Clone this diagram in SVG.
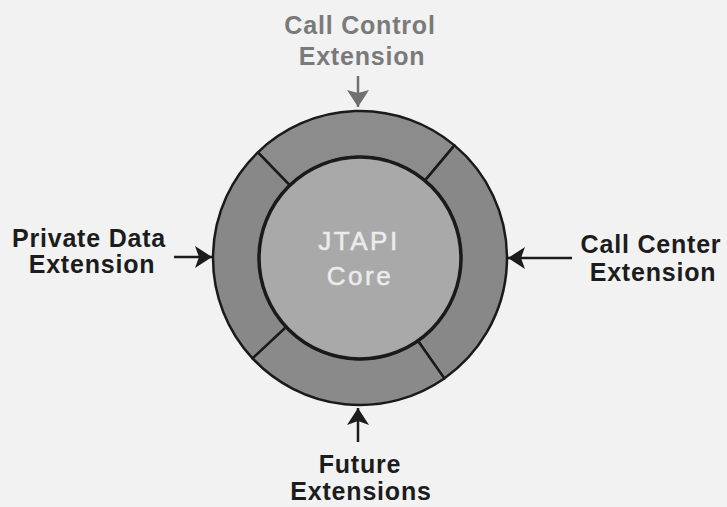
<svg xmlns="http://www.w3.org/2000/svg" width="727" height="507" viewBox="0 0 727 507">
  <style>
    .label { font-family: "Liberation Sans", Arial, sans-serif; font-size: 25px; font-weight: bold; fill: #1c1c1c; text-anchor: middle; letter-spacing: 0.8px; }
    .label.dim { fill: #7a7a7a; }
    .core-text { font-family: "Liberation Sans", Arial, sans-serif; font-size: 26px; fill: #ececec; stroke: #ececec; stroke-width: 0.5; text-anchor: middle; letter-spacing: 2.5px; }
    .segment { fill: #888888; stroke: #1a1a1a; stroke-width: 2.5; stroke-linejoin: round; }
    .core { fill: #a9a9a9; stroke: #1a1a1a; stroke-width: 3.5; }
    .link { stroke: #1c1c1c; stroke-width: 2.5; fill: none; }
    .link.dim { stroke: #707070; }
  </style>
  <defs>
    <marker id="head" markerUnits="userSpaceOnUse" markerWidth="18" markerHeight="24" refX="17" refY="11" orient="auto">
      <path d="M0,0 L17,11 L0,22 L4,11 Z" fill="#1c1c1c"/>
    </marker>
    <marker id="head-dim" markerUnits="userSpaceOnUse" markerWidth="18" markerHeight="24" refX="17" refY="11" orient="auto">
      <path d="M0,0 L17,11 L0,22 L3,11 Z" fill="#707070"/>
    </marker>
  </defs>

  <rect width="727" height="507" fill="#f2f2f2"/>

  <!-- ring of extensions around the core -->
  <g id="call-control-segment">
    <path class="segment" style="fill:#8c8c8c" d="M257.9,152.3 A147,147 0 0 1 454.5,145.4 L424.9,180.6 A101,101 0 0 0 289.8,185.4 Z"/>
  </g>
  <g id="call-center-segment">
    <path class="segment" d="M454.5,145.4 A147,147 0 0 1 444.3,378.4 L417.9,340.7 A101,101 0 0 0 424.9,180.6 Z"/>
  </g>
  <g id="future-segment">
    <path class="segment" style="fill:#8a8a8a" d="M444.3,378.4 A147,147 0 0 1 252.5,358.3 L286.1,326.9 A101,101 0 0 0 417.9,340.7 Z"/>
  </g>
  <g id="private-data-segment">
    <path class="segment" d="M252.5,358.3 A147,147 0 0 1 257.9,152.3 L289.8,185.4 A101,101 0 0 0 286.1,326.9 Z"/>
  </g>

  <g id="jtapi-core">
    <circle class="core" cx="360" cy="258" r="101"/>
    <text class="core-text" x="359" y="250">JTAPI</text>
    <text class="core-text" x="360" y="285">Core</text>
  </g>

  <g id="call-control-label">
    <text class="label dim" x="360" y="34">Call Control</text>
    <text class="label dim" x="362" y="65">Extension</text>
  </g>
  <g id="private-data-label">
    <text class="label" x="89" y="247">Private Data</text>
    <text class="label" x="92" y="273">Extension</text>
  </g>
  <g id="call-center-label">
    <text class="label" x="651" y="253">Call Center</text>
    <text class="label" x="653" y="281">Extension</text>
  </g>
  <g id="future-label">
    <text class="label" x="360" y="473">Future</text>
    <text class="label" x="361" y="500">Extensions</text>
  </g>

  <g id="connectors">
    <line class="link dim" x1="358" y1="76" x2="358" y2="107" marker-end="url(#head-dim)"/>
    <line class="link" x1="174" y1="257" x2="212" y2="257" marker-end="url(#head)"/>
    <line class="link" x1="572" y1="258" x2="508" y2="258" marker-end="url(#head)"/>
    <line class="link" x1="358" y1="442" x2="358" y2="408" marker-end="url(#head)"/>
  </g>
</svg>
